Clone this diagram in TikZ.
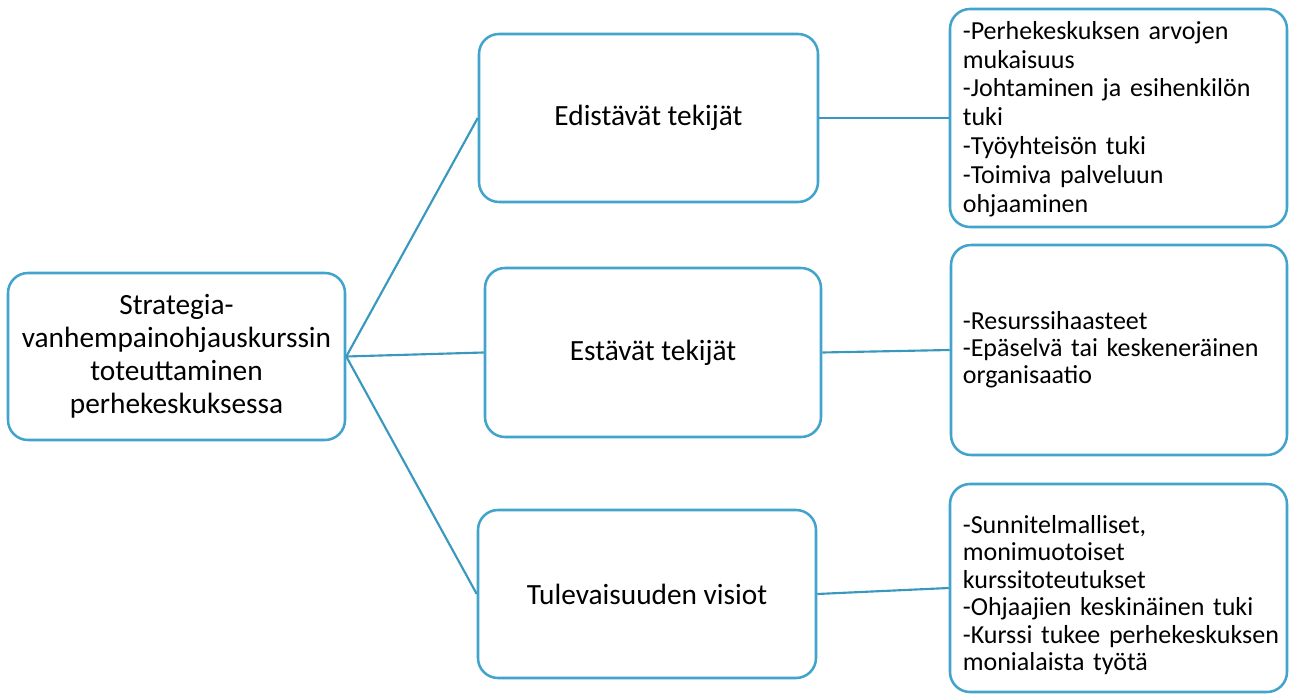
\documentclass[tikz,border=0pt]{standalone}
\usepackage{fontspec}
\setmainfont{Carlito}
\definecolor{boxblue}{RGB}{66,164,204}
\definecolor{lineblue}{RGB}{56,152,190}
\begin{document}
\begin{tikzpicture}[x=0.75pt,y=-0.75pt,
  box/.style={draw=boxblue,line width=1.9pt,rounded corners=15pt,fill=white,inner sep=0pt},
  rootbox/.style={box,align=center,font=\fontsize{22pt}{24.75pt}\selectfont},
  midbox/.style={box,align=center,font=\fontsize{22pt}{26pt}\selectfont},
  listbox/.style={box,align=left,inner xsep=7pt},
  listtext/.style={align=left,inner sep=0pt,text width=238.75pt,font=\fontsize{19.5pt}{21pt}\selectfont},
  conn/.style={draw=lineblue,line width=1.6pt}]
\useasboundingbox (0,0) rectangle (1289,695);
\node[rootbox,minimum width=252.75pt,minimum height=125.25pt] (root) at (176.5,356.5)
  {Strategia-\\vanhempainohjauskurssin\\toteuttaminen\\perhekeskuksessa};
\node[midbox,minimum width=254.25pt,minimum height=126pt] (e1) at (648.5,118) {Edistävät tekijät};
\node[midbox,minimum width=252pt,minimum height=126.75pt] (e2) at (653,352.5) {Estävät tekijät};
\node[midbox,minimum width=253.5pt,minimum height=126pt] (e3) at (647,594) {Tulevaisuuden visiot};
\node[box,minimum width=252.75pt,minimum height=163.5pt] (r1) at (1118.5,118) {};
\node[box,minimum width=252pt,minimum height=157.5pt] (r2) at (1119,350) {};
\node[box,minimum width=252.75pt,minimum height=156pt] (r3) at (1118.5,588) {};
\node[listtext,font=\fontsize{19.5pt}{21.6pt}\selectfont] (t1) at (1122,119)
  {-Perhekeskuksen arvojen\\mukaisuus\\-Johtaminen ja esihenkilön\\tuki\\-Työyhteisön tuki\\-Toimiva palveluun\\ohjaaminen};
\node[listtext,font=\fontsize{19.5pt}{20.4pt}\selectfont] (t2) at (1122,350)
  {-Resurssihaasteet\\-Epäselvä tai keskeneräinen\\organisaatio};
\node[listtext,font=\fontsize{19.5pt}{20.6pt}\selectfont] (t3) at (1122,595)
  {-Sunnitelmalliset,\\monimuotoiset\\kurssitoteutukset\\-Ohjaajien keskinäinen tuki\\-Kurssi tukee perhekeskuksen\\monialaista työtä};
\draw[conn] (root.east) -- (e1.west);
\draw[conn] (root.east) -- (e2.west);
\draw[conn] (root.east) -- (e3.west);
\draw[conn] (e1.east) -- (r1.west);
\draw[conn] (e2.east) -- (r2.west);
\draw[conn] (e3.east) -- (r3.west);
\end{tikzpicture}
\end{document}
